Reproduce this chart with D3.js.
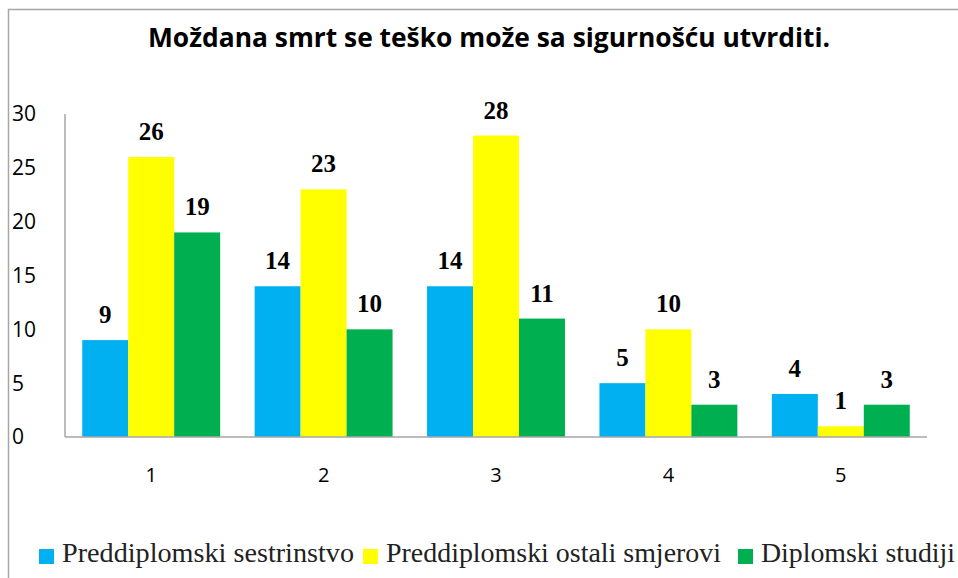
<!DOCTYPE html>
<html>
<head>
<meta charset="utf-8">
<script src="https://cdn.jsdelivr.net/npm/d3@7"></script>
<style>
  body { margin: 0; background: #fff; }
  svg { display: block; }
</style>
</head>
<body>
<svg id="chart" width="958" height="578"></svg>
<script>
// data
var categories = ["1", "2", "3", "4", "5"];
var seriesNames = ["Preddiplomski sestrinstvo", "Preddiplomski ostali smjerovi", "Diplomski studiji"];
var sestrinstvo = [9, 14, 14, 5, 4];
var ostali = [26, 23, 28, 10, 1];
var diplomski = [19, 10, 11, 3, 3];
var yTicks = [0, 5, 10, 15, 20, 25, 30];
var colors = ["#00b0f0", "#ffff00", "#00b050"];

var svg = d3.select("#chart");
var m = {left: 65, right: 31, top: 114, bottom: 141};
var w = 958 - m.left - m.right, h = 578 - m.top - m.bottom;

// frame (left + top edge only, as in the source)
svg.append("path")
  .attr("d", "M8.5,578 L8.5,9.5 L958,9.5")
  .style("fill", "none").style("stroke", "#a6a6a6").style("stroke-width", "1.5px");

svg.append("text")
  .attr("x", 489).attr("y", 47)
  .attr("text-anchor", "middle")
  .style("font-family", "'Open Sans', sans-serif")
  .style("font-weight", "bold")
  .style("font-size", "27px")
  .attr("textLength", 682)
  .attr("lengthAdjust", "spacingAndGlyphs")
  .text("Moždana smrt se teško može sa sigurnošću utvrditi.");

var g = svg.append("g").attr("transform", "translate(" + m.left + "," + m.top + ")");

var x0 = d3.scaleBand().domain(categories).range([0, w]).paddingInner(0.2).paddingOuter(0.1);
var x1 = d3.scaleBand().domain(d3.range(3)).range([0, x0.bandwidth()]);
var y = d3.scaleLinear().domain([0, 30]).range([h, 0]);

var rows = categories.map(function(c, i) {
  return {cat: c, vals: [sestrinstvo[i], ostali[i], diplomski[i]]};
});

// y axis line
g.append("line").attr("x1", 0).attr("x2", 0).attr("y1", 0).attr("y2", h)
  .style("stroke", "#a6a6a6").style("stroke-width", "1.5px");

// y tick labels
g.selectAll(".ytick").data(yTicks).enter().append("text")
  .attr("class", "ytick")
  .attr("x", -53).attr("y", function(d){ return y(d); })
  .attr("dy", "0.35em")
  .style("font-family", "'Open Sans', sans-serif")
  .style("font-size", "21px")
  .style("fill", "#000")
  .text(function(d){ return d; });

var grp = g.selectAll(".grp").data(rows).enter().append("g")
  .attr("class", "grp")
  .attr("transform", function(d){ return "translate(" + x0(d.cat) + ",0)"; });

grp.selectAll("rect").data(function(d){ return d.vals; }).enter().append("rect")
  .attr("x", function(d, i){ return x1(i); })
  .attr("y", function(d){ return y(d); })
  .attr("width", x1.bandwidth())
  .attr("height", function(d){ return h - y(d); })
  .style("fill", function(d, i){ return colors[i]; });

grp.selectAll(".lbl").data(function(d){ return d.vals; }).enter().append("text")
  .attr("class", "lbl")
  .attr("x", function(d, i){ return x1(i) + x1.bandwidth() / 2; })
  .attr("y", function(d){ return y(d) - 17; })
  .attr("text-anchor", "middle")
  .style("font-family", "'Liberation Serif', serif")
  .style("font-weight", "bold")
  .style("font-size", "25px")
  .text(function(d){ return d; });

g.append("line").attr("x1", 0).attr("x2", w).attr("y1", h).attr("y2", h)
  .style("stroke", "#a6a6a6").style("stroke-width", "1.5px");

// x labels
g.selectAll(".xlbl").data(categories).enter().append("text")
  .attr("class", "xlbl")
  .attr("x", function(d){ return x0(d) + x0.bandwidth() / 2; })
  .attr("y", h + 45)
  .attr("text-anchor", "middle")
  .style("font-family", "'Open Sans', sans-serif")
  .style("font-size", "20px")
  .text(function(d){ return d; });

// legend
var legX = [39, 363, 738];
var legW = [292, 335, 194];
var leg = svg.selectAll(".leg").data(seriesNames).enter().append("g")
  .attr("class", "leg")
  .attr("transform", function(d, i){ return "translate(" + legX[i] + ",549)"; });
leg.append("rect").attr("width", 15).attr("height", 15)
  .style("fill", function(d, i){ return colors[i]; });
leg.append("text").attr("x", 23).attr("y", 13)
  .style("font-family", "'Liberation Serif', serif")
  .style("font-size", "27px")
  .style("fill", "#222")
  .attr("textLength", function(d, i){ return legW[i]; })
  .attr("lengthAdjust", "spacingAndGlyphs")
  .text(function(d){ return d; });
</script>
</body>
</html>
